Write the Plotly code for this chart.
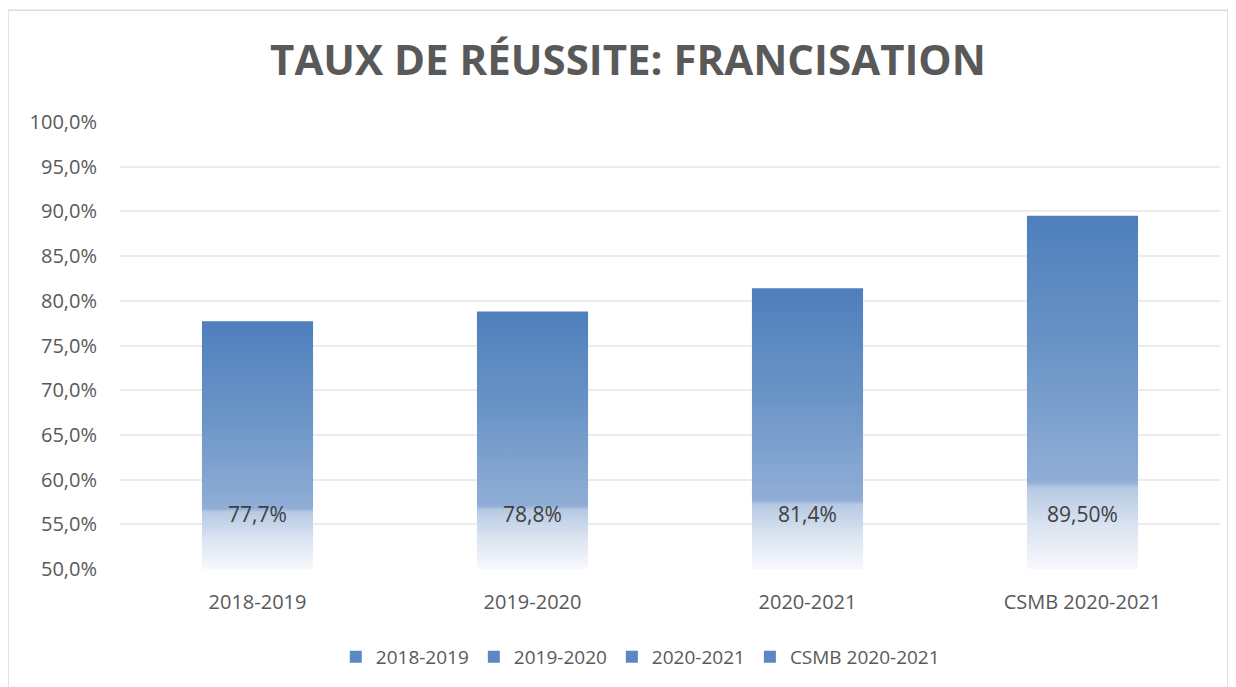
import plotly.graph_objects as go

categories = ["2018-2019", "2019-2020", "2020-2021", "CSMB 2020-2021"]
values = [77.7, 78.8, 81.4, 89.5]
value_labels = ["77,7%", "78,8%", "81,4%", "89,50%"]
axis_min = 50
axis_max = 100

bar_half = 0.202
label_y = 55.9
grad = [[0.0, "#f7f9fc"], [0.12, "#dbe4f1"], [0.23, "#b6c9e3"], [0.245, "#90aed6"],
        [0.6, "#6c95c7"], [1.0, "#4e7fbc"]]

W, H = 1228, 679  # page body has an 8px margin
fig = go.Figure()
for i, (cat, v) in enumerate(zip(categories, values)):
    fig.add_trace(go.Scatter(
        x=[i - bar_half, i + bar_half, i + bar_half, i - bar_half, i - bar_half],
        y=[axis_min, axis_min, v, v, axis_min],
        mode="lines", fill="toself", line=dict(width=0, color="#4e7fbc"),
        fillgradient=dict(type="vertical", colorscale=grad),
        name=cat, legendgroup=cat, hoverinfo="skip", showlegend=False,
    ))
    # legend swatch
    fig.add_trace(go.Bar(x=[None], y=[None], name=cat, legendgroup=cat,
                         marker=dict(color="#5b88c3", line=dict(width=0)),
                         showlegend=True, hoverinfo="skip"))

fig.add_trace(go.Scatter(
    x=list(range(len(categories))), y=[label_y] * len(categories),
    mode="text", text=value_labels, textposition="middle center",
    textfont=dict(family="Open Sans", size=21, color="#404040"),
    showlegend=False, hoverinfo="skip",
))

fig.update_layout(
    width=W, height=H,
    margin=dict(l=112, r=16, t=114, b=117),
    paper_bgcolor="white", plot_bgcolor="white",
    separators=", ",
    font=dict(family="Open Sans", color="#595959", size=20),
    title=dict(text="<b>TAUX DE RÉUSSITE: FRANCISATION</b>",
               font=dict(family="Open Sans", size=42, color="#595959"),
               x=620 / W, xanchor="center", xref="container", y=1 - 52 / H, yanchor="middle"),
    xaxis=dict(range=[-0.5, len(categories) - 0.5], tickvals=list(range(len(categories))),
               ticktext=categories, showgrid=False, zeroline=False, showline=False,
               ticklabelstandoff=19, tickfont=dict(size=20, color="#595959")),
    yaxis=dict(range=[axis_min, axis_max], dtick=5, tickformat=".1f", ticksuffix="%",
               showgrid=True, gridcolor="#ececec", gridwidth=1.5, zeroline=False,
               showline=False, ticklabelstandoff=22, tickfont=dict(size=20, color="#595959")),
    legend=dict(orientation="h", x=0.473, xanchor="center", y=-0.194, yanchor="middle",
                font=dict(size=19, color="#595959"), itemwidth=30, tracegroupgap=0,
                bgcolor="rgba(0,0,0,0)"),
    shapes=[dict(type="rect", xref="paper", yref="paper",
                 x0=(0 - 112) / 1100, x1=(1220 - 112) / 1100,
                 y0=(562 - 700) / 448, y1=(562 - 2) / 448,
                 line=dict(color="#d9d9d9", width=1.5), fillcolor="rgba(0,0,0,0)",
                 layer="below")],
)

fig.write_html("out.html")
